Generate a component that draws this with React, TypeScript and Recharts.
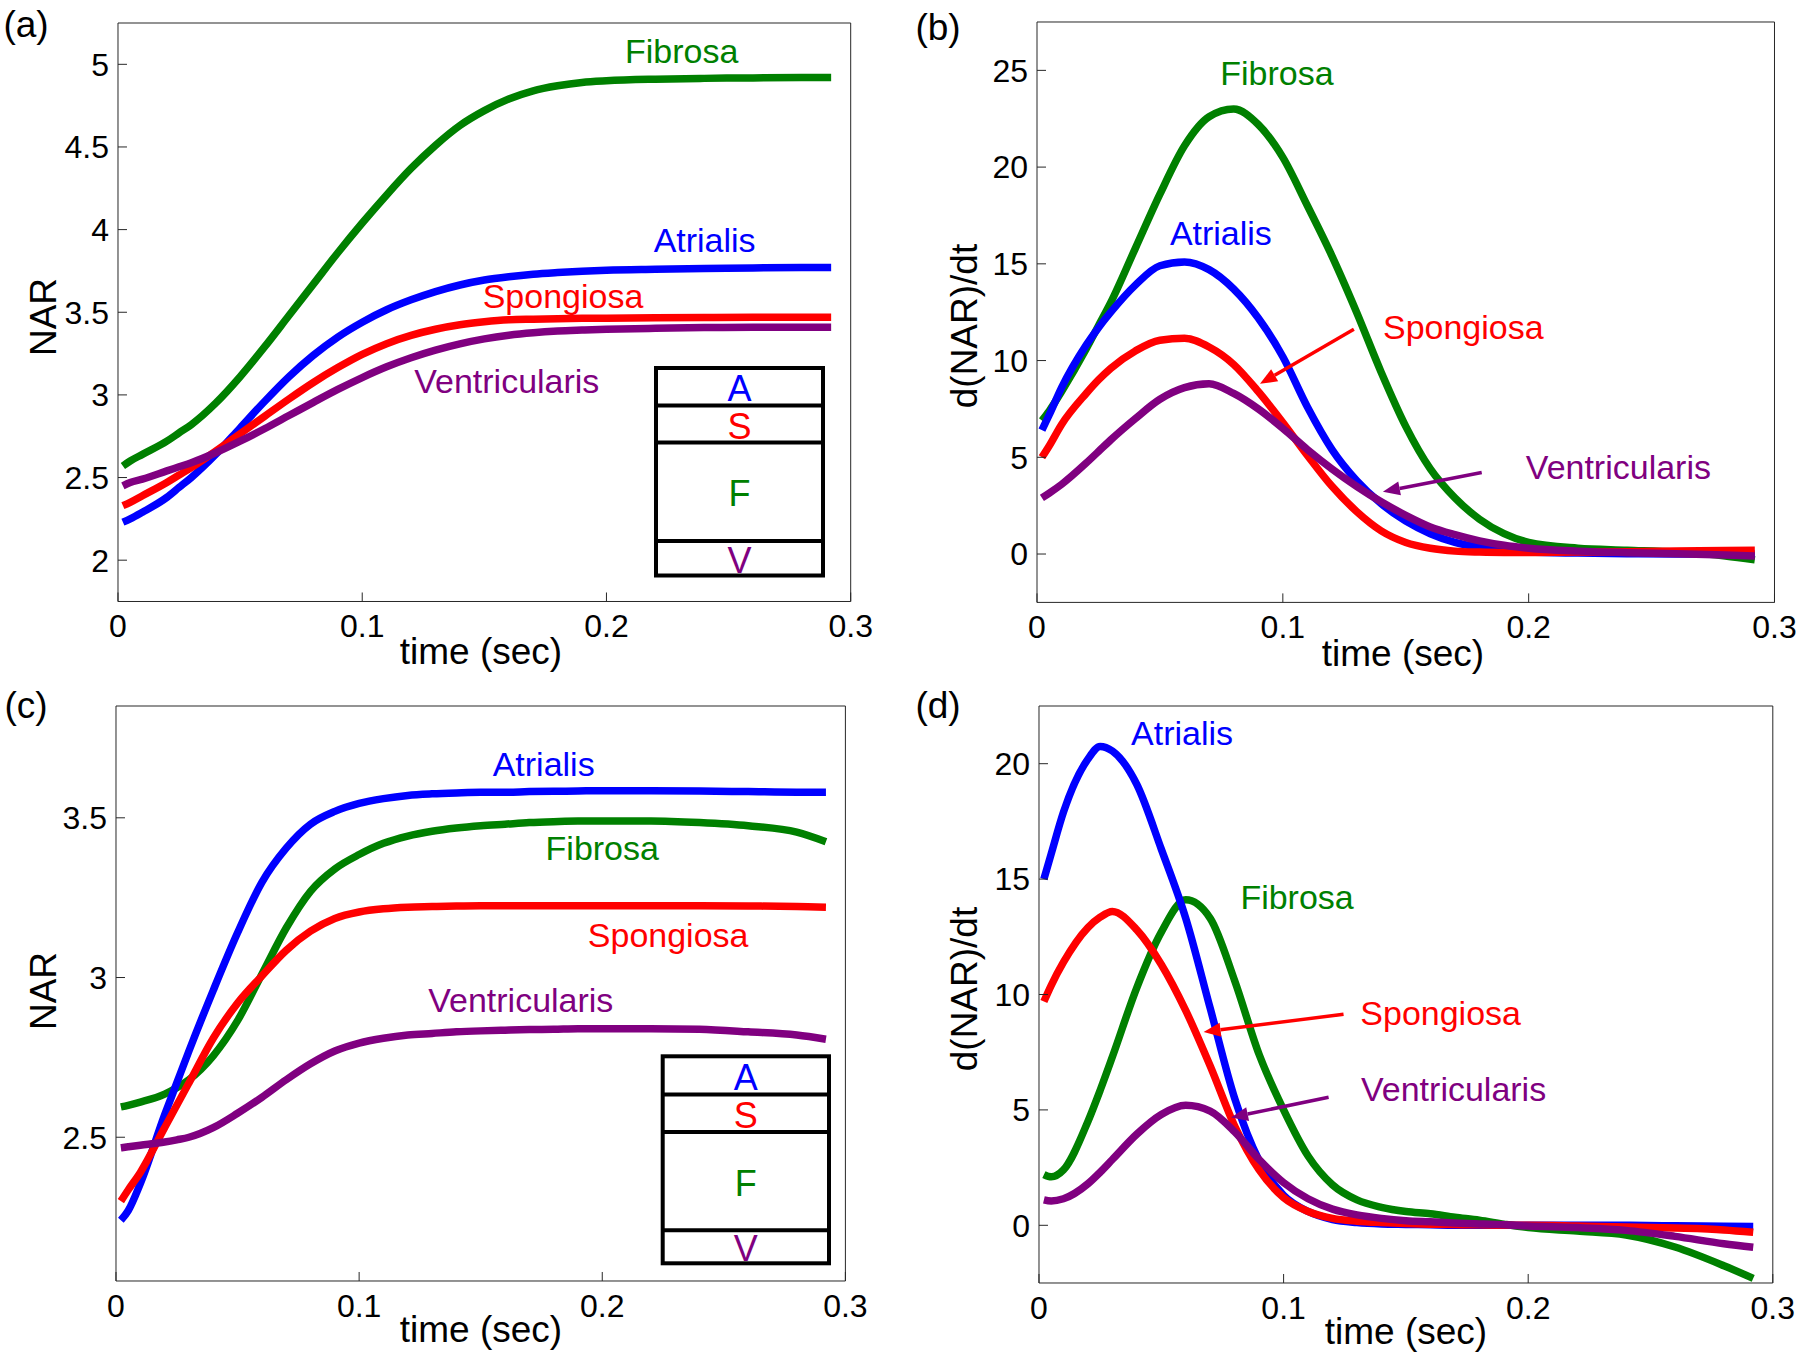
import React from "react";
import { LineChart, Line, XAxis, YAxis, ReferenceDot, ReferenceLine } from "recharts";

// sample times (sec), shared by all four panels
const time = [0.002, 0.005, 0.01, 0.02, 0.025, 0.03, 0.04, 0.05, 0.06, 0.07, 0.08, 0.09, 0.1, 0.11, 0.12, 0.13, 0.14, 0.15, 0.16, 0.17, 0.18, 0.19, 0.2, 0.22, 0.24, 0.26, 0.28, 0.292];

// (a) NAR
const aFibrosa = [2.57, 2.6, 2.64, 2.72, 2.77, 2.82, 2.95, 3.11, 3.29, 3.48, 3.67, 3.86, 4.04, 4.21, 4.37, 4.51, 4.63, 4.72, 4.79, 4.84, 4.87, 4.89, 4.9, 4.91, 4.915, 4.918, 4.92, 4.92];
const aAtrialis = [2.23, 2.25, 2.29, 2.38, 2.44, 2.5, 2.64, 2.8, 2.96, 3.11, 3.24, 3.35, 3.44, 3.515, 3.575, 3.625, 3.665, 3.695, 3.715, 3.73, 3.74, 3.748, 3.754, 3.76, 3.765, 3.768, 3.77, 3.77];
const aSpongiosa = [2.33, 2.35, 2.39, 2.47, 2.515, 2.56, 2.66, 2.765, 2.87, 2.975, 3.075, 3.165, 3.245, 3.31, 3.36, 3.397, 3.424, 3.442, 3.454, 3.458, 3.461, 3.463, 3.464, 3.466, 3.468, 3.469, 3.47, 3.47];
const aVentricularis = [2.45, 2.47, 2.49, 2.54, 2.565, 2.59, 2.65, 2.72, 2.795, 2.875, 2.955, 3.033, 3.105, 3.17, 3.225, 3.271, 3.309, 3.339, 3.361, 3.376, 3.386, 3.392, 3.397, 3.403, 3.407, 3.409, 3.41, 3.41];

// (b) d(NAR)/dt
const bFibrosa = [6.9, 7.4, 8.4, 10.6, 11.8, 13.0, 15.8, 18.6, 21.1, 22.6, 23.0, 22.2, 20.5, 18.0, 15.4, 12.5, 9.4, 6.6, 4.4, 2.9, 1.8, 1.05, 0.6, 0.3, 0.2, 0.1, -0.1, -0.3];
const bAtrialis = [6.4, 7.2, 8.6, 10.8, 11.7, 12.5, 13.9, 14.9, 15.1, 14.7, 13.7, 12.2, 10.2, 7.6, 5.4, 3.8, 2.6, 1.7, 1.05, 0.6, 0.35, 0.2, 0.1, 0.05, 0.02, 0, 0, 0];
const bSpongiosa = [5.0, 5.6, 6.7, 8.3, 9.0, 9.6, 10.5, 11.05, 11.15, 10.7, 9.8, 8.4, 6.8, 5.1, 3.5, 2.2, 1.2, 0.6, 0.3, 0.15, 0.1, 0.08, 0.08, 0.1, 0.12, 0.15, 0.18, 0.2];
const bVentricularis = [2.9, 3.15, 3.6, 4.7, 5.3, 5.9, 7.0, 8.0, 8.6, 8.8, 8.3, 7.5, 6.5, 5.4, 4.4, 3.5, 2.7, 2.0, 1.4, 1.0, 0.68, 0.45, 0.3, 0.15, 0.07, 0.02, -0.05, -0.1];

// (c) NAR
const cFibrosa = [2.595, 2.6, 2.61, 2.635, 2.655, 2.68, 2.755, 2.865, 3.01, 3.155, 3.27, 3.34, 3.385, 3.42, 3.443, 3.458, 3.468, 3.475, 3.48, 3.485, 3.488, 3.49, 3.49, 3.49, 3.485, 3.475, 3.455, 3.425];
const cAtrialis = [2.24, 2.27, 2.355, 2.57, 2.67, 2.77, 2.96, 3.14, 3.298, 3.405, 3.48, 3.52, 3.545, 3.56, 3.57, 3.575, 3.578, 3.58, 3.58, 3.582, 3.583, 3.584, 3.585, 3.585, 3.584, 3.582, 3.58, 3.58];
const cSpongiosa = [2.3, 2.335, 2.39, 2.53, 2.6, 2.67, 2.81, 2.92, 3.005, 3.085, 3.145, 3.185, 3.205, 3.215, 3.22, 3.222, 3.224, 3.225, 3.225, 3.225, 3.225, 3.225, 3.225, 3.225, 3.225, 3.224, 3.222, 3.22];
const cVentricularis = [2.467, 2.47, 2.475, 2.485, 2.492, 2.5, 2.53, 2.575, 2.625, 2.68, 2.73, 2.77, 2.795, 2.81, 2.82, 2.825, 2.83, 2.833, 2.835, 2.837, 2.838, 2.84, 2.84, 2.84, 2.838, 2.83, 2.82, 2.807];

// (d) d(NAR)/dt
const dFibrosa = [2.2, 2.1, 2.4, 4.5, 5.85, 7.3, 10.3, 12.7, 14.1, 13.3, 10.6, 7.4, 5.0, 3.0, 1.75, 1.1, 0.78, 0.6, 0.5, 0.35, 0.22, 0.05, -0.1, -0.25, -0.42, -0.94, -1.75, -2.3];
const dAtrialis = [15.0, 16.1, 17.9, 20.2, 20.75, 20.55, 19.1, 16.3, 13.3, 9.4, 5.5, 2.8, 1.3, 0.6, 0.25, 0.12, 0.06, 0.04, 0.02, 0, 0, 0, 0, 0, 0, -0.02, -0.04, -0.05];
const dSpongiosa = [9.7, 10.4, 11.4, 12.9, 13.35, 13.6, 12.8, 11.3, 9.3, 6.9, 4.3, 2.4, 1.2, 0.6, 0.3, 0.18, 0.12, 0.08, 0.05, 0.03, 0.02, 0, 0, -0.03, -0.07, -0.12, -0.2, -0.3];
const dVentricularis = [1.1, 1.05, 1.15, 1.8, 2.3, 2.85, 3.95, 4.8, 5.2, 4.95, 4.05, 2.85, 1.85, 1.15, 0.7, 0.45, 0.3, 0.2, 0.15, 0.1, 0.06, 0.02, -0.03, -0.1, -0.22, -0.48, -0.8, -0.95];

const xTicks = [0, 0.1, 0.2, 0.3];
const narTicksA = [2, 2.5, 3, 3.5, 4, 4.5, 5];
const rateTicksB = [0, 5, 10, 15, 20, 25];
const narTicksC = [2.5, 3, 3.5];
const rateTicksD = [0, 5, 10, 15, 20];

const LAYERS = ["Fibrosa", "Atrialis", "Spongiosa", "Ventricularis"];
const COLORS: Record<string, string> = {
  Fibrosa: "#008000",
  Atrialis: "#0000ff",
  Spongiosa: "#ff0000",
  Ventricularis: "#800080",
};
const AXIS = "#262626";
const FONT = "'Liberation Sans', Arial, Helvetica, sans-serif";

function Arrow(p: any) {
  const { x1, y1, x2, y2, stroke } = p;
  const dx = x2 - x1;
  const dy = y2 - y1;
  const len = Math.hypot(dx, dy) || 1;
  const ux = dx / len;
  const uy = dy / len;
  const hl = 17;
  const hw = 7;
  const bx = x2 - ux * hl;
  const by = y2 - uy * hl;
  return (
    <g>
      <line x1={x1} y1={y1} x2={bx} y2={by} stroke={stroke} strokeWidth={3.5} />
      <polygon points={`${x2},${y2} ${bx - uy * hw},${by + ux * hw} ${bx + uy * hw},${by - ux * hw}`} fill={stroke} />
    </g>
  );
}

type Note = { name: string; t: number; v: number };
type Pointer = { name: string; from: [number, number]; to: [number, number] };

function Panel({ frame, series, yDomain, yTicks, notes, arrows = [] }: {
  frame: { x: number; y: number; w: number; h: number };
  series: Record<string, number[]>;
  yDomain: [number, number];
  yTicks: number[];
  notes: Note[];
  arrows?: Pointer[];
}) {
  const rows = time.map((t, i) => {
    const r: any = { t };
    LAYERS.forEach((k) => (r[k] = series[k][i]));
    return r;
  });
  const padL = 110, padT = 20, padR = 30, padB = 60;
  return (
    <div style={{ position: "absolute", left: frame.x - padL, top: frame.y - padT }}>
      <LineChart width={frame.w + padL + padR} height={frame.h + padT + padB} data={rows}
        margin={{ top: padT - 1, right: padR - 1, bottom: 0, left: 0 }}>
        <XAxis dataKey="t" type="number" domain={[0, 0.3]} ticks={xTicks} interval={0} height={padB} tickSize={-9} tickMargin={22}
          tick={{ fontSize: 32, fill: "#000" }} tickFormatter={(v) => String(v)} stroke={AXIS} allowDataOverflow />
        <XAxis xAxisId="top" orientation="top" dataKey="t" type="number" domain={[0, 0.3]} ticks={xTicks} interval={0} height={1}
          tickSize={-9} tick={false} stroke={AXIS} allowDataOverflow />
        <YAxis type="number" domain={yDomain} ticks={yTicks} interval={0} width={padL} tickSize={-9} tickMargin={18}
          tick={{ fontSize: 32, fill: "#000" }} tickFormatter={(v) => String(v)} stroke={AXIS} allowDataOverflow />
        <YAxis yAxisId="right" orientation="right" type="number" domain={yDomain} ticks={yTicks} interval={0} width={1}
          tickSize={-9} tick={false} stroke={AXIS} allowDataOverflow />
        {LAYERS.map((k) => (
          <Line key={k} dataKey={k} type="monotone" stroke={COLORS[k]} strokeWidth={7.5} dot={false} isAnimationActive={false} />
        ))}
        {arrows.map((a) => (
          <ReferenceLine key={"ar" + a.name} segment={[{ x: a.from[0], y: a.from[1] }, { x: a.to[0], y: a.to[1] }]}
            stroke={COLORS[a.name]} ifOverflow="visible" shape={Arrow} />
        ))}
        {notes.map((n) => (
          <ReferenceDot key={"n" + n.name} x={n.t} y={n.v} r={1} fill="none" stroke="none"
            label={{ value: n.name, position: "center", fill: COLORS[n.name], fontSize: 34 }} />
        ))}
      </LineChart>
    </div>
  );
}

function Inset({ left, top, right, bottom, cuts }: { left: number; top: number; right: number; bottom: number; cuts: number[] }) {
  const edges = [top, ...cuts, bottom];
  const letters = ["A", "S", "F", "V"];
  const cx = (left + right) / 2;
  return (
    <g>
      <rect x={left} y={top} width={right - left} height={bottom - top} fill="#fff" stroke="#000" strokeWidth={4} />
      {cuts.map((c) => (
        <line key={c} x1={left} x2={right} y1={c} y2={c} stroke="#000" strokeWidth={4} />
      ))}
      {letters.map((l, i) => (
        <text key={l} x={cx} y={(edges[i] + edges[i + 1]) / 2 + 2} textAnchor="middle" dominantBaseline="central"
          fontSize={36} fill={COLORS[LAYERS.find((k) => k[0] === l) as string]}>
          {l}
        </text>
      ))}
    </g>
  );
}

export default function App() {
  const panelTags = [
    { t: "(a)", x: 26, y: 24 },
    { t: "(b)", x: 938, y: 27 },
    { t: "(c)", x: 26, y: 705 },
    { t: "(d)", x: 938, y: 705 },
  ];
  const yTitles = [
    { t: "NAR", x: 43, y: 317 },
    { t: "d(NAR)/dt", x: 964, y: 326 },
    { t: "NAR", x: 43, y: 991 },
    { t: "d(NAR)/dt", x: 964, y: 989 },
  ];
  const xTitles = [
    { x: 481, y: 651 },
    { x: 1403, y: 653 },
    { x: 481, y: 1329 },
    { x: 1406, y: 1331 },
  ];
  return (
    <div style={{ position: "absolute", left: 0, top: 0, width: 1800, height: 1358, background: "#fff", fontFamily: FONT, overflow: "hidden" }}>
      <Panel
        frame={{ x: 118.3, y: 22.5, w: 732.7, h: 578.5 }}
        series={{ Fibrosa: aFibrosa, Atrialis: aAtrialis, Spongiosa: aSpongiosa, Ventricularis: aVentricularis }}
        yDomain={[1.75, 5.25]}
        yTicks={narTicksA}
        notes={[
          { name: "Fibrosa", t: 0.2308, v: 5.084 },
          { name: "Atrialis", t: 0.2402, v: 3.939 },
          { name: "Spongiosa", t: 0.1822, v: 3.596 },
          { name: "Ventricularis", t: 0.1592, v: 3.084 },
        ]}
      />
      <Panel
        frame={{ x: 1036.5, y: 22.3, w: 737.5, h: 580.4 }}
        series={{ Fibrosa: bFibrosa, Atrialis: bAtrialis, Spongiosa: bSpongiosa, Ventricularis: bVentricularis }}
        yDomain={[-2.5, 27.5]}
        yTicks={rateTicksB}
        notes={[
          { name: "Fibrosa", t: 0.0976, v: 24.87 },
          { name: "Atrialis", t: 0.0748, v: 16.58 },
          { name: "Spongiosa", t: 0.1734, v: 11.73 },
          { name: "Ventricularis", t: 0.2365, v: 4.49 },
        ]}
        arrows={[
          { name: "Spongiosa", from: [0.1289, 11.62], to: [0.0907, 8.8] },
          { name: "Ventricularis", from: [0.1809, 4.21], to: [0.1407, 3.22] },
        ]}
      />
      <Panel
        frame={{ x: 116.3, y: 706, w: 729.4, h: 575 }}
        series={{ Fibrosa: cFibrosa, Atrialis: cAtrialis, Spongiosa: cSpongiosa, Ventricularis: cVentricularis }}
        yDomain={[2.05, 3.85]}
        yTicks={narTicksC}
        notes={[
          { name: "Atrialis", t: 0.1759, v: 3.669 },
          { name: "Fibrosa", t: 0.2, v: 3.405 },
          { name: "Spongiosa", t: 0.2271, v: 3.133 },
          { name: "Ventricularis", t: 0.1665, v: 2.93 },
        ]}
      />
      <Panel
        frame={{ x: 1038.5, y: 705.5, w: 733.8, h: 577 }}
        series={{ Fibrosa: dFibrosa, Atrialis: dAtrialis, Spongiosa: dSpongiosa, Ventricularis: dVentricularis }}
        yDomain={[-2.5, 22.5]}
        yTicks={rateTicksD}
        notes={[
          { name: "Atrialis", t: 0.0585, v: 21.34 },
          { name: "Fibrosa", t: 0.1055, v: 14.24 },
          { name: "Spongiosa", t: 0.1642, v: 9.19 },
          { name: "Ventricularis", t: 0.1695, v: 5.92 },
        ]}
        arrows={[
          { name: "Spongiosa", from: [0.1245, 9.14], to: [0.0673, 8.38] },
          { name: "Ventricularis", from: [0.1184, 5.55], to: [0.0785, 4.67] },
        ]}
      />
      <svg width={1800} height={1358} style={{ position: "absolute", left: 0, top: 0, pointerEvents: "none" }}>
        <Inset left={656} top={368} right={823} bottom={575.5} cuts={[405.6, 442.5, 541]} />
        <Inset left={662.7} top={1056.3} right={829} bottom={1263.3} cuts={[1094.4, 1132, 1230.2]} />
        {panelTags.map((p) => (
          <text key={p.t} x={p.x} y={p.y} textAnchor="middle" dominantBaseline="central" fontSize={37} fill="#000">{p.t}</text>
        ))}
        {yTitles.map((p, i) => (
          <text key={"y" + i} x={p.x} y={p.y} transform={`rotate(-90 ${p.x} ${p.y})`} textAnchor="middle" dominantBaseline="central" fontSize={37} fill="#000">
            {p.t}
          </text>
        ))}
        {xTitles.map((p, i) => (
          <text key={"x" + i} x={p.x} y={p.y} textAnchor="middle" dominantBaseline="central" fontSize={37} fill="#000">time (sec)</text>
        ))}
      </svg>
    </div>
  );
}
